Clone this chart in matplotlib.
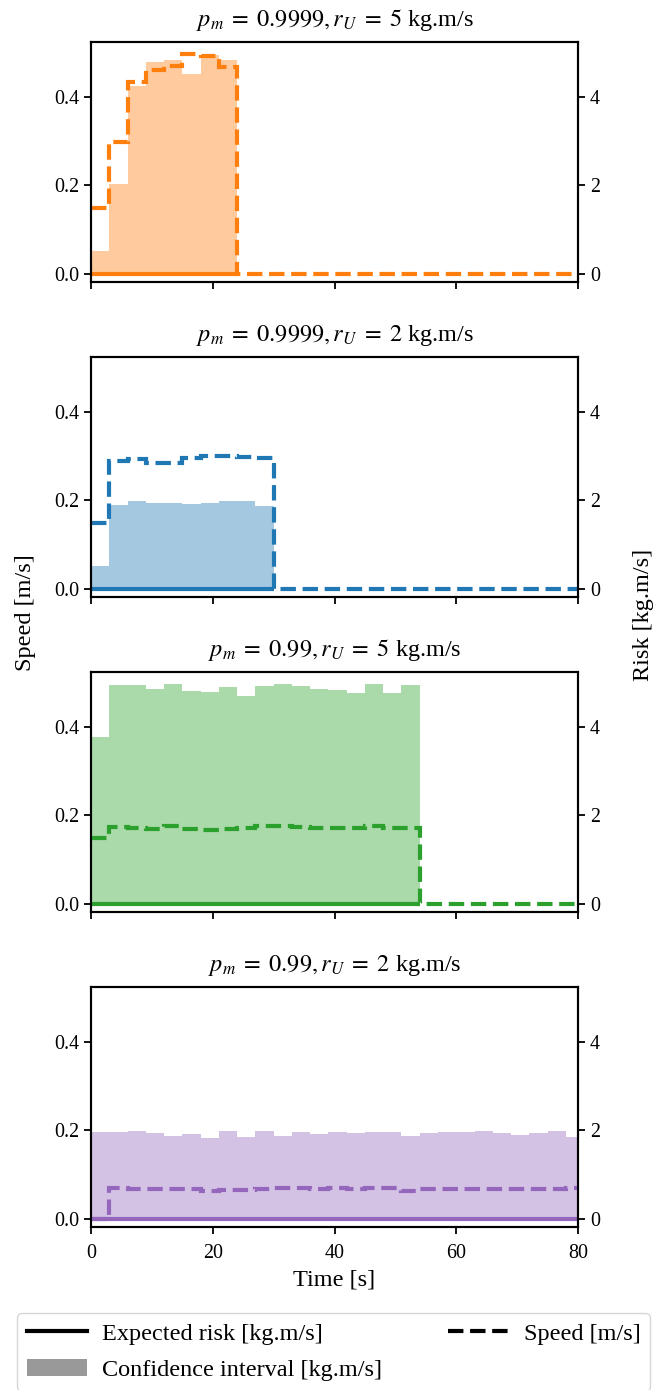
import matplotlib
matplotlib.use("Agg")
import matplotlib.pyplot as plt
from matplotlib.lines import Line2D
from matplotlib.patches import Patch

plt.rcParams['font.family'] = ['Liberation Serif', 'DejaVu Serif']
plt.rcParams['mathtext.fontset'] = 'stix'
plt.rcParams['axes.linewidth'] = 1.5

# ---------------- data ----------------
titles = [r"$p_m\;=\;0.9999, r_U\;=\;5$ kg.m/s",
          r"$p_m\;=\;0.9999, r_U\;=\;2$ kg.m/s",
          r"$p_m\;=\;0.99, r_U\;=\;5$ kg.m/s",
          r"$p_m\;=\;0.99, r_U\;=\;2$ kg.m/s"]
colors = ["#ff7f0e", "#1f77b4", "#2ca02c", "#9467bd"]

# panel 1
t1 = [0, 3, 6, 9, 12, 15, 18, 21, 24]
ci1 = [0.52, 2.04, 4.25, 4.78, 4.82, 4.51, 4.94, 4.82]
risk1 = [0.0, 0.0, 0.0, 0.0, 0.0, 0.0, 0.0, 0.0]
ts1 = [0, 3, 6, 9, 12, 15, 18, 21, 24, 80]
sp1 = [0.148, 0.297, 0.434, 0.461, 0.470, 0.497, 0.491, 0.467, 0.0]

# panel 2
t2 = [0, 3, 6, 9, 12, 15, 18, 21, 24, 27, 30]
ci2 = [0.52, 1.90, 1.99, 1.93, 1.93, 1.91, 1.95, 1.98, 1.98, 1.87]
risk2 = [0.0] * 10
ts2 = [0, 3, 6, 9, 12, 15, 18, 21, 24, 27, 30, 80]
sp2 = [0.150, 0.288, 0.293, 0.284, 0.284, 0.296, 0.300, 0.300, 0.298, 0.296, 0.0]

# panel 3
t3 = [0, 3, 6, 9, 12, 15, 18, 21, 24, 27, 30, 33, 36, 39, 42, 45, 48, 51, 54]
ci3 = [3.77, 4.93, 4.93, 4.85, 4.97, 4.81, 4.79, 4.89, 4.70, 4.91, 4.97, 4.91,
       4.85, 4.83, 4.76, 4.96, 4.76, 4.94]
risk3 = [0.0] * 18
ts3 = [0, 3, 6, 9, 12, 15, 18, 21, 24, 27, 30, 33, 36, 39, 42, 45, 48, 51, 54, 80]
sp3 = [0.150, 0.174, 0.172, 0.170, 0.176, 0.169, 0.167, 0.169, 0.171, 0.175,
       0.176, 0.174, 0.172, 0.172, 0.172, 0.175, 0.171, 0.171, 0.0]

# panel 4
t4 = [0, 3, 6, 9, 12, 15, 18, 21, 24, 27, 30, 33, 36, 39, 42, 45, 48, 51, 54,
      57, 60, 63, 66, 69, 72, 75, 78, 80]
ci4 = [1.96, 1.96, 1.985, 1.94, 1.88, 1.925, 1.835, 1.985, 1.85, 1.985, 1.865,
       1.96, 1.925, 1.96, 1.95, 1.97, 1.97, 1.865, 1.94, 1.97, 1.955, 1.985,
       1.94, 1.89, 1.94, 1.98, 1.85]
risk4 = [0.0] * 27
ts4 = t4
sp4 = [0.0, 0.070, 0.067, 0.067, 0.067, 0.067, 0.064, 0.065, 0.065, 0.067,
       0.069, 0.069, 0.068, 0.069, 0.067, 0.069, 0.069, 0.064, 0.067, 0.067,
       0.068, 0.068, 0.068, 0.068, 0.068, 0.068, 0.069]

panels = [(t1, ci1, risk1, ts1, sp1), (t2, ci2, risk2, ts2, sp2),
          (t3, ci3, risk3, ts3, sp3), (t4, ci4, risk4, ts4, sp4)]

xticks = [0, 20, 40, 60, 80]
speed_ticks = [0.0, 0.2, 0.4]
risk_ticks = [0, 2, 4]

# ---------------- figure ----------------
W, H = 670, 1390
fig = plt.figure(figsize=(W / 100, H / 100), dpi=100)

left = 91 / W
width = (578 - 91) / W
ax_h = 240.6 / H
first_top = 41.7
step = 315.0

tick_fs = 14.4
lab_fs = 17.5
lw = 3.0

for i, (t, ci, rk, ts, sp) in enumerate(panels):
    top = first_top + i * step
    bottom = 1 - (top + 240.6) / H
    ax = fig.add_axes([left, bottom, width, ax_h])
    ax2 = ax.twinx()
    c = colors[i]
    ax2.stairs(ci, t, fill=True, color=c, alpha=0.4, baseline=0, lw=0)
    ax2.stairs(rk, t, baseline=None, color=c, lw=lw)
    ax.stairs(sp, ts, baseline=None, color=c, lw=lw, linestyle='--')
    ax.set_zorder(ax2.get_zorder() + 1)
    ax.patch.set_visible(False)

    ax.set_xlim(0, 80)
    ax.set_ylim(-0.0185, 0.524)
    ax2.set_ylim(-0.185, 5.24)
    ax.set_xticks(xticks)
    ax.set_yticks(speed_ticks)
    ax.set_yticklabels([f"{v:.1f}" for v in speed_ticks])
    ax2.set_yticks(risk_ticks)
    for a in (ax, ax2):
        a.tick_params(labelsize=tick_fs, length=5, width=1.3)
    ax.tick_params(axis='x', pad=7)
    if i < 3:
        ax.set_xticklabels([])
    else:
        ax.set_xlabel("Time [s]", fontsize=lab_fs, labelpad=5)
    ax.set_title(titles[i], fontsize=lab_fs, pad=11)

fig.text(26 / W, 1 - 613 / H, "Speed [m/s]", rotation=90, fontsize=lab_fs,
         ha='center', va='center')
fig.text(643 / W, 1 - 615 / H, "Risk [kg.m/s]", rotation=90, fontsize=lab_fs,
         ha='center', va='center')

handles = [Line2D([], [], color='black', lw=lw),
           Patch(facecolor='black', alpha=0.4, edgecolor='none'),
           Line2D([], [], color='black', lw=lw, linestyle='--')]
labels = ["Expected risk [kg.m/s]", "Confidence interval [kg.m/s]", "Speed [m/s]"]
fig.legend(handles, labels, loc='upper left', ncol=2, mode='expand',
           bbox_to_anchor=(17 / W, 1 - 1313 / H, 633 / W, 0),
           fontsize=lab_fs, handlelength=2.5, handletextpad=0.6,
           labelspacing=0.6, borderaxespad=0)

fig.savefig("out.png", dpi=100)
